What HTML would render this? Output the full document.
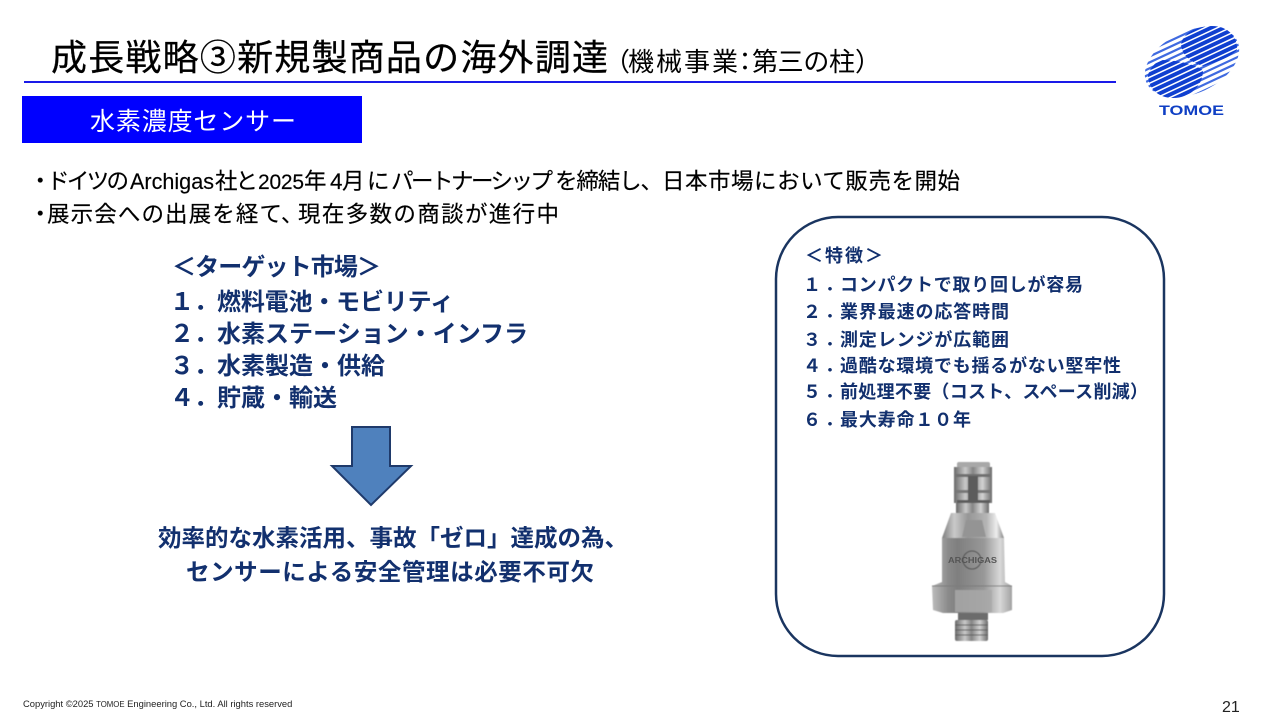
<!DOCTYPE html>
<html lang="ja">
<head>
<meta charset="utf-8">
<title>成長戦略③新規製商品の海外調達</title>
<style>
html,body{margin:0;padding:0;background:#fff;width:1280px;height:720px;overflow:hidden}
svg{display:block;position:absolute;left:0;top:0}
text{font-family:"Liberation Sans","Noto Sans CJK JP",sans-serif;white-space:pre}
.b{font-weight:700;fill:#12306e}
.t{fill:#000;stroke:#000;stroke-width:.25}
</style>
</head>
<body>
<svg width="1280" height="720" viewBox="0 0 1280 720" xmlns="http://www.w3.org/2000/svg">
<defs>
<g id="st" stroke="currentColor">
<line x1="1120" x2="1265" y1="6.6" y2="6.6"/><line x1="1120" x2="1265" y1="12" y2="12"/>
<line x1="1120" x2="1265" y1="17.4" y2="17.4"/><line x1="1120" x2="1265" y1="22.8" y2="22.8"/>
<line x1="1120" x2="1265" y1="28.2" y2="28.2"/><line x1="1120" x2="1265" y1="33.6" y2="33.6"/>
<line x1="1120" x2="1265" y1="39" y2="39"/><line x1="1120" x2="1265" y1="44.4" y2="44.4"/>
<line x1="1120" x2="1265" y1="49.8" y2="49.8"/><line x1="1120" x2="1265" y1="55.2" y2="55.2"/>
<line x1="1120" x2="1265" y1="60.6" y2="60.6"/><line x1="1120" x2="1265" y1="66" y2="66"/>
<line x1="1120" x2="1265" y1="71.4" y2="71.4"/><line x1="1120" x2="1265" y1="76.8" y2="76.8"/>
<line x1="1120" x2="1265" y1="82.2" y2="82.2"/><line x1="1120" x2="1265" y1="87.6" y2="87.6"/>
<line x1="1120" x2="1265" y1="93" y2="93"/><line x1="1120" x2="1265" y1="98.4" y2="98.4"/>
<line x1="1120" x2="1265" y1="103.8" y2="103.8"/><line x1="1120" x2="1265" y1="109.2" y2="109.2"/>
<line x1="1120" x2="1265" y1="114.6" y2="114.6"/>
</g>
<clipPath id="cOuter"><ellipse cx="1192" cy="62" rx="50" ry="31" transform="rotate(-25 1192 62)"/></clipPath>
<clipPath id="cUp"><path d="M1181,45 C1182,33 1197,26 1212,26 C1228,26 1238,37 1237,50 C1230,57 1218,62 1203,66 C1190,62 1182,55 1181,45 Z"/></clipPath>
<clipPath id="cLow"><path d="M1203,70 C1203,86 1190,98 1173,98 C1158,98 1148,88 1148,75 C1150,68 1155,63 1160,60 C1172,60 1190,62 1203,70 Z"/></clipPath>
<linearGradient id="m1" x1="0" x2="1" y1="0" y2="0">
<stop offset="0" stop-color="#7e7e7e"/><stop offset=".2" stop-color="#c9c9c9"/><stop offset=".42" stop-color="#969696"/><stop offset=".72" stop-color="#b5b5b5"/><stop offset=".88" stop-color="#eeeeee"/><stop offset="1" stop-color="#858585"/>
</linearGradient>
<linearGradient id="m2" x1="0" x2="1" y1="0" y2="0">
<stop offset="0" stop-color="#bcbcbc"/><stop offset=".2" stop-color="#8b8b8b"/><stop offset=".32" stop-color="#7f7f7f"/><stop offset=".65" stop-color="#989898"/><stop offset=".85" stop-color="#d8d8d8"/><stop offset="1" stop-color="#a2a2a2"/>
</linearGradient>
<linearGradient id="m3" x1="0" x2="1" y1="0" y2="0">
<stop offset="0" stop-color="#6a6a6a"/><stop offset=".3" stop-color="#c9c9c9"/><stop offset=".5" stop-color="#858585"/><stop offset=".75" stop-color="#d2d2d2"/><stop offset="1" stop-color="#6a6a6a"/>
</linearGradient>
<filter id="soft" x="-5%" y="-5%" width="110%" height="110%"><feGaussianBlur stdDeviation="0.6"/></filter>
</defs>

<!-- Title -->
<text class="t" x="51" y="70" font-size="36" textLength="557" lengthAdjust="spacing">成長戦略③新規製商品の海外調達</text>
<g font-size="26" fill="#000">
<text x="604" y="71">（</text>
<text x="628" y="71" textLength="110" lengthAdjust="spacing">機械事業</text>
<text x="732" y="71">：</text>
<text x="752" y="71" textLength="103" lengthAdjust="spacing">第三の柱</text>
<text x="855" y="71">）</text>
</g>
<rect x="24" y="81" width="1092" height="2" fill="#1a1ae8"/>

<!-- Logo -->
<g clip-path="url(#cOuter)" color="#3f6ae0"><g transform="rotate(-25 1192 62)"><use href="#st" stroke-width="2.2"/></g></g>
<g clip-path="url(#cUp)" color="#0f3fd0"><g transform="rotate(-25 1192 62)"><use href="#st" stroke-width="3.9"/></g></g>
<g clip-path="url(#cLow)" color="#0f3fd0"><g transform="rotate(-25 1192 62)"><use href="#st" stroke-width="3.9"/></g></g>
<text x="1159" y="115" font-size="13.5" font-weight="700" fill="#0f3fc4" textLength="65" lengthAdjust="spacingAndGlyphs">TOMOE</text>

<!-- Heading box -->
<rect x="22" y="96" width="340" height="47" fill="#0000ff"/>
<text x="90" y="130" font-size="25" fill="#fff" textLength="206" lengthAdjust="spacing">水素濃度センサー</text>

<!-- Body -->
<g font-size="22.5" class="t" style="stroke-width:.15">
<text x="29" y="189">・</text>
<text x="47" y="189" textLength="82" lengthAdjust="spacing">ドイツの</text>
<text x="130" y="189" textLength="84" lengthAdjust="spacingAndGlyphs">Archigas</text>
<text x="215" y="189" textLength="43" lengthAdjust="spacing">社と</text>
<text x="258" y="189" font-size="21" textLength="46" lengthAdjust="spacing">2025</text>
<text x="304" y="189">年</text>
<text x="330" y="189">4</text>
<text x="342" y="189">月</text>
<text x="367" y="189">に</text>
<text x="391" y="189" textLength="162" lengthAdjust="spacing">パートナーシップ</text>
<text x="555" y="189" textLength="108" lengthAdjust="spacing">を締結し、</text>
<text x="662" y="189" textLength="298" lengthAdjust="spacing">日本市場において販売を開始</text>
<text x="29" y="222">・</text>
<text x="47" y="222" textLength="235" lengthAdjust="spacing">展示会への出展を経て</text>
<text x="281" y="222">、</text>
<text x="298" y="222" textLength="261" lengthAdjust="spacing">現在多数の商談が進行中</text>
</g>

<!-- Target market -->
<g font-size="24">
<text class="b" x="172" y="275" textLength="209" lengthAdjust="spacing">＜ターゲット市場＞</text>
<text class="b" x="170" y="310">１．</text>
<text class="b" x="217" y="310" textLength="237" lengthAdjust="spacing">燃料電池・モビリティ</text>
<text class="b" x="170" y="342">２．</text>
<text class="b" x="217" y="342" textLength="311" lengthAdjust="spacing">水素ステーション・インフラ</text>
<text class="b" x="170" y="374">３．</text>
<text class="b" x="217" y="374" textLength="168" lengthAdjust="spacing">水素製造・供給</text>
<text class="b" x="170" y="406">４．</text>
<text class="b" x="217" y="406" textLength="120" lengthAdjust="spacing">貯蔵・輸送</text>
</g>

<!-- Down arrow -->
<polygon points="352,427 390,427 390,466 411,466 371,505 332,466 352,466" fill="#4f81bd" stroke="#1f3a6b" stroke-width="2"/>

<!-- Conclusion -->
<g font-size="23.5">
<text class="b" x="158" y="546" textLength="470" lengthAdjust="spacing">効率的な水素活用、事故「ゼロ」達成の為、</text>
<text class="b" x="186" y="580" textLength="408" lengthAdjust="spacing">センサーによる安全管理は必要不可欠</text>
</g>

<!-- Features panel -->
<rect x="776" y="217" width="388" height="439" rx="62" ry="62" fill="#fff" stroke="#1a3560" stroke-width="2.5"/>
<g font-size="18">
<text class="b" x="805" y="262" textLength="78" lengthAdjust="spacing">＜特徴＞</text>
<text class="b" x="803" y="291">１<tspan dx="4">．</tspan></text>
<text class="b" x="840" y="291" textLength="243" lengthAdjust="spacing">コンパクトで取り回しが容易</text>
<text class="b" x="803" y="318">２<tspan dx="4">．</tspan></text>
<text class="b" x="840" y="318" textLength="169" lengthAdjust="spacing">業界最速の応答時間</text>
<text class="b" x="803" y="346">３<tspan dx="4">．</tspan></text>
<text class="b" x="840" y="346" textLength="169" lengthAdjust="spacing">測定レンジが広範囲</text>
<text class="b" x="803" y="372">４<tspan dx="4">．</tspan></text>
<text class="b" x="840" y="372" textLength="281" lengthAdjust="spacing">過酷な環境でも揺るがない堅牢性</text>
<text class="b" x="803" y="398">５<tspan dx="4">．</tspan></text>
<text class="b" x="840" y="398" textLength="308" lengthAdjust="spacing">前処理不要（コスト、スペース削減）</text>
<text class="b" x="803" y="426">６<tspan dx="4">．</tspan></text>
<text class="b" x="840" y="426" textLength="131" lengthAdjust="spacing">最大寿命１０年</text>
</g>

<!-- Sensor -->
<g filter="url(#soft)">
<rect x="957" y="462" width="33" height="6" rx="2" fill="#a8a8a8"/>
<rect x="954" y="467" width="38" height="36" fill="url(#m3)"/>
<rect x="956" y="474" width="34" height="3" fill="#6f6f6f"/>
<rect x="956" y="490" width="34" height="3" fill="#777"/>
<rect x="968" y="476" width="10" height="24" fill="#5c5c5c"/>
<rect x="957" y="500" width="33" height="3" fill="#5c5c5c"/>
<rect x="956" y="503" width="33" height="10" fill="url(#m3)"/>
<polygon points="951,513 995,513 1004,538 942,538" fill="url(#m1)"/>
<polygon points="966,520 982,520 986,537 962,537" fill="#949494"/>
<polygon points="942,538 1004,538 1005,582 1012,586 1012,610 1003,613 943,613 933,610 932,586 942,582" fill="url(#m2)"/>
<polygon points="955,590 992,590 992,612 955,612" fill="#a8a8a8" opacity=".85"/>
<line x1="932" y1="586" x2="1012" y2="586" stroke="#7c7c7c"/>
<rect x="958" y="613" width="30" height="7" fill="#6c6c6c"/>
<rect x="955" y="620" width="33" height="21" rx="2" fill="url(#m3)"/>
<g stroke="#5c5c5c" stroke-width="1"><line x1="955" y1="625" x2="988" y2="625"/><line x1="955" y1="630" x2="988" y2="630"/><line x1="955" y1="635" x2="988" y2="635"/></g>
<circle cx="972" cy="560" r="9" fill="none" stroke="#4c4c4c" stroke-width="1"/>
</g>
<text x="948" y="563" font-size="8" font-weight="700" fill="#555" textLength="49" lengthAdjust="spacingAndGlyphs">ARCHIGAS</text>

<!-- Footer -->
<text x="23" y="707" font-size="9.4" fill="#222">Copyright ©2025 <tspan font-size="7.8">TOMOE</tspan> Engineering Co., Ltd. All rights reserved</text>
<text x="1222" y="712" font-size="16" fill="#222">21</text>
</svg>
</body>
</html>
